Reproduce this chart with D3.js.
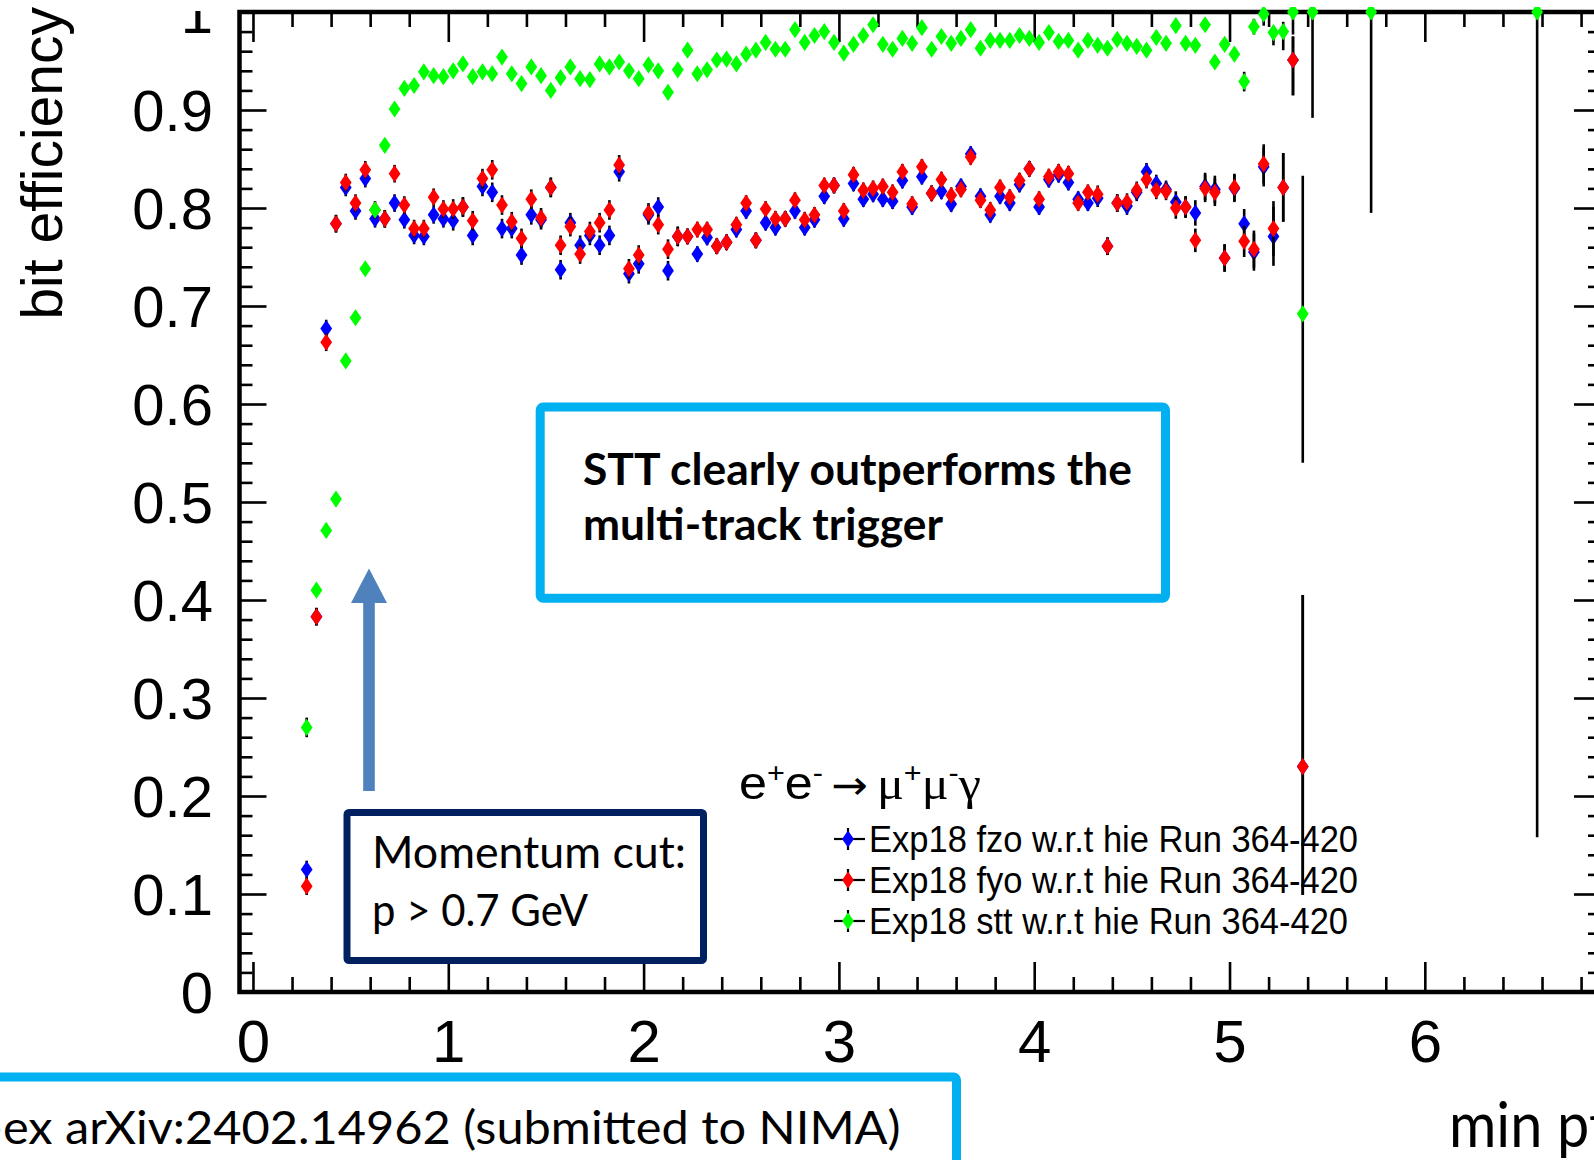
<!DOCTYPE html>
<html><head><meta charset="utf-8">
<script src="https://cdn.jsdelivr.net/npm/d3@7"></script>
<style>html,body{margin:0;padding:0;background:#fff;overflow:hidden}</style>
</head><body>
<svg id="chart" width="1594" height="1160" xmlns="http://www.w3.org/2000/svg"></svg>
<script>
// ---------------- DATA ----------------
const ptBins = [
  0.275,0.325,0.375,0.425,0.475,0.525,0.575,0.625,0.675,0.725,
  0.775,0.825,0.875,0.925,0.975,1.025,1.075,1.125,1.175,1.225,
  1.275,1.325,1.375,1.425,1.475,1.525,1.575,1.625,1.675,1.725,
  1.775,1.825,1.875,1.925,1.975,2.025,2.075,2.125,2.175,2.225,
  2.275,2.325,2.375,2.425,2.475,2.525,2.575,2.625,2.675,2.725,
  2.775,2.825,2.875,2.925,2.975,3.025,3.075,3.125,3.175,3.225,
  3.275,3.325,3.375,3.425,3.475,3.525,3.575,3.625,3.675,3.725,
  3.775,3.825,3.875,3.925,3.975,4.025,4.075,4.125,4.175,4.225,
  4.275,4.325,4.375,4.425,4.475,4.525,4.575,4.625,4.675,4.725,
  4.775,4.825,4.875,4.925,4.975,5.025,5.075,5.125,5.175,5.225,
  5.275,5.325,5.375,5.425,5.725,6.575
];
const effFzo = [
  0.125,0.383,0.677,0.784,0.821,0.797,0.830,0.789,0.789,0.805,
  0.788,0.772,0.771,0.793,0.789,0.787,0.801,0.772,0.822,0.816,
  0.779,0.779,0.752,0.793,0.788,0.821,0.737,0.785,0.762,0.772,
  0.762,0.772,0.837,0.733,0.743,0.793,0.801,0.736,0.771,0.771,
  0.753,0.770,0.761,0.765,0.778,0.797,0.767,0.785,0.780,0.789,
  0.797,0.780,0.788,0.812,0.823,0.789,0.825,0.809,0.814,0.809,
  0.807,0.828,0.801,0.832,0.815,0.817,0.804,0.822,0.855,0.812,
  0.793,0.812,0.805,0.824,0.840,0.801,0.829,0.834,0.826,0.809,
  0.805,0.810,0.761,0.805,0.802,0.816,0.837,0.825,0.819,0.806,
  0.801,0.795,0.822,0.819,0.749,0.820,0.784,0.755,0.842,0.771,
  0.821,0.951,0.230,null,null,null
];
const effFyo = [
  0.108,0.383,0.663,0.784,0.826,0.805,0.839,0.798,0.789,0.835,
  0.803,0.779,0.779,0.811,0.799,0.799,0.801,0.787,0.830,0.839,
  0.803,0.786,0.769,0.809,0.790,0.821,0.762,0.781,0.753,0.776,
  0.785,0.798,0.844,0.738,0.752,0.795,0.783,0.758,0.771,0.771,
  0.778,0.778,0.761,0.765,0.783,0.805,0.767,0.799,0.789,0.789,
  0.808,0.788,0.793,0.823,0.823,0.797,0.834,0.818,0.820,0.822,
  0.816,0.837,0.804,0.842,0.815,0.829,0.813,0.819,0.852,0.808,
  0.798,0.821,0.811,0.828,0.840,0.809,0.832,0.837,0.835,0.805,
  0.816,0.814,0.761,0.805,0.806,0.818,0.829,0.818,0.817,0.800,
  0.801,0.767,0.820,0.816,0.749,0.821,0.766,0.758,0.845,0.779,
  0.821,0.951,0.230,null,null,null
];
const effStt = [
  0.270,0.410,0.471,0.503,0.644,0.688,0.738,0.798,0.864,0.901,
  0.922,0.925,0.939,0.935,0.934,0.940,0.947,0.934,0.939,0.937,
  0.954,0.937,0.927,0.944,0.935,0.920,0.933,0.944,0.932,0.931,
  0.947,0.944,0.949,0.940,0.932,0.946,0.940,0.918,0.941,0.961,
  0.937,0.941,0.951,0.952,0.947,0.957,0.961,0.969,0.962,0.962,
  0.982,0.969,0.976,0.980,0.969,0.958,0.967,0.976,0.987,0.967,
  0.962,0.973,0.968,0.984,0.962,0.975,0.968,0.973,0.982,0.963,
  0.971,0.971,0.971,0.976,0.973,0.969,0.979,0.970,0.971,0.961,
  0.971,0.966,0.963,0.972,0.968,0.965,0.961,0.974,0.968,0.986,
  0.968,0.966,0.987,0.949,0.967,0.957,0.929,0.985,0.998,0.979,
  0.980,1.000,0.692,1.000,1.000,1.000
];
// errors: number = symmetric, [low, high] = asymmetric
const errFzo = [
  0.009,0.009,0.009,0.009,0.009,0.009,0.009,0.009,0.009,0.009,
  0.009,0.009,0.009,0.009,0.009,0.010,0.010,0.010,0.010,0.010,
  0.010,0.010,0.010,0.010,0.010,0.010,0.010,0.010,0.010,0.010,
  0.010,0.010,0.010,0.010,0.010,0.010,0.010,0.010,0.010,0.008,
  0.008,0.008,0.008,0.008,0.008,0.008,0.008,0.008,0.008,0.008,
  0.008,0.008,0.008,0.008,0.008,0.008,0.008,0.008,0.008,0.008,
  0.008,0.008,0.008,0.008,0.008,0.008,0.008,0.008,0.008,0.008,
  0.008,0.008,0.008,0.008,0.008,0.008,0.008,0.008,0.008,0.008,
  0.008,0.009,0.009,0.009,0.009,0.009,0.009,0.009,0.009,0.011,
  0.011,0.013,0.014,0.014,0.014,0.014,0.015,0.019,0.020,0.030,
  0.035,[0.036,0.024],[0.131,0.175],0,0,0
];
const errFyo = [
  0.009,0.009,0.009,0.009,0.009,0.009,0.009,0.009,0.009,0.009,
  0.009,0.009,0.009,0.009,0.009,0.010,0.010,0.010,0.010,0.010,
  0.010,0.010,0.010,0.010,0.010,0.010,0.010,0.010,0.010,0.010,
  0.010,0.010,0.010,0.010,0.010,0.010,0.010,0.010,0.010,0.008,
  0.008,0.008,0.008,0.008,0.008,0.008,0.008,0.008,0.008,0.008,
  0.008,0.008,0.008,0.008,0.008,0.008,0.008,0.008,0.008,0.008,
  0.008,0.008,0.008,0.008,0.008,0.008,0.008,0.008,0.008,0.008,
  0.008,0.008,0.008,0.008,0.008,0.008,0.008,0.008,0.008,0.008,
  0.008,0.009,0.009,0.009,0.009,0.009,0.009,0.009,0.009,0.011,
  0.011,0.012,0.014,0.014,0.014,0.014,0.016,0.019,0.020,0.028,
  0.035,[0.036,0.024],[0.131,0.175],0,0,0
];
const errStt = [
  0.010,0.006,0.006,0.006,0.006,0.006,0.006,0.006,0.006,0.006,
  0.004,0.004,0.004,0.004,0.004,0.004,0.004,0.004,0.004,0.004,
  0.004,0.004,0.004,0.004,0.004,0.004,0.004,0.004,0.004,0.004,
  0.004,0.004,0.004,0.004,0.004,0.004,0.004,0.004,0.004,0.004,
  0.004,0.004,0.004,0.004,0.004,0.004,0.004,0.004,0.004,0.004,
  0.004,0.004,0.004,0.004,0.004,0.004,0.004,0.004,0.004,0.004,
  0.004,0.004,0.004,0.004,0.004,0.004,0.004,0.004,0.004,0.004,
  0.004,0.004,0.004,0.004,0.004,0.004,0.004,0.004,0.004,0.004,
  0.004,0.004,0.004,0.004,0.004,0.004,0.004,0.004,0.004,0.004,
  0.004,0.004,0.004,0.004,0.004,0.004,0.010,0.008,[0.012,0.002],[0.013,0.006],
  [0.019,0.010],[0.023,0],[0.152,0.141],[0.108,0],[0.205,0],[0.842,0]
];
const seriesNames = [
  "Exp18 fzo w.r.t hie Run 364-420",
  "Exp18 fyo w.r.t hie Run 364-420",
  "Exp18 stt w.r.t hie Run 364-420"
];
const xTickValues = [0,1,2,3,4,5,6];
const xTickLabels = ["0","1","2","3","4","5","6"];
const yTickValues = [0,0.1,0.2,0.3,0.4,0.5,0.6,0.7,0.8,0.9,1];
const yTickLabels = ["0","0.1","0.2","0.3","0.4","0.5","0.6","0.7","0.8","0.9","1"];
const yTitle = "bit efficiency";
const xTitle = "min pt [GeV]";
const noteSTT = ["STT clearly outperforms the", "multi-track trigger"];
const noteCut = ["Momentum cut:", "p > 0.7 GeV"];
const noteRef = "hep-ex arXiv:2402.14962 (submitted to NIMA)";

// ---------------- LAYOUT ----------------
const W = 1594, H = 1160;
const frame = {left: 239.5, right: 1601, top: 12, bottom: 992};
const ROOTFONT = "'Liberation Sans', Arial, Helvetica, sans-serif";
const PPTFONT = "Lato, 'Open Sans', sans-serif";
const colors = ["#0000ff", "#ff0000", "#00ff00"];

const svg = d3.select("#chart");
svg.append("rect").attr("width", W).attr("height", H).attr("fill", "#fff");

const x = d3.scaleLinear().domain([-0.069, 6.902]).range([frame.left, frame.right]);
const y = d3.scaleLinear().domain([0, 1]).range([frame.bottom, frame.top]);

const defs = svg.append("defs");
defs.append("clipPath").attr("id", "imgclip")
  .append("rect").attr("x", 0).attr("y", 7).attr("width", W).attr("height", H);
defs.append("clipPath").attr("id", "lblclip")
  .append("rect").attr("x", 0).attr("y", 11).attr("width", W).attr("height", H);
const root = svg.append("g").attr("clip-path", "url(#imgclip)");

const xMinor = d3.range(0, 69).map(i => +(i * 0.2).toFixed(2)).filter(v => v <= 6.9 && !xTickValues.includes(v));
const yMinor = d3.range(0, 51).map(i => +(i * 0.02).toFixed(2)).filter(v => Math.abs(v*10 - Math.round(v*10)) > 1e-6);

function styleTicks(g) {
  g.select(".domain").remove();
  g.selectAll("line").attr("stroke", "#000").attr("stroke-width", 2.6);
}
// bottom
root.append("g").attr("transform", `translate(0,${frame.bottom})`)
  .call(d3.axisBottom(x).tickValues(xTickValues).tickSize(-30).tickFormat("")).call(styleTicks);
root.append("g").attr("transform", `translate(0,${frame.bottom})`)
  .call(d3.axisBottom(x).tickValues(xMinor).tickSize(-15).tickFormat("")).call(styleTicks);
// top
root.append("g").attr("transform", `translate(0,${frame.top})`)
  .call(d3.axisTop(x).tickValues(xTickValues).tickSize(-30).tickFormat("")).call(styleTicks);
root.append("g").attr("transform", `translate(0,${frame.top})`)
  .call(d3.axisTop(x).tickValues(xMinor).tickSize(-15).tickFormat("")).call(styleTicks);
// left
root.append("g").attr("transform", `translate(${frame.left},0)`)
  .call(d3.axisLeft(y).tickValues(yTickValues).tickSize(-27).tickFormat("")).call(styleTicks);
root.append("g").attr("transform", `translate(${frame.left},0)`)
  .call(d3.axisLeft(y).tickValues(yMinor).tickSize(-13).tickFormat("")).call(styleTicks);
// right
root.append("g").attr("transform", `translate(${frame.right},0)`)
  .call(d3.axisRight(y).tickValues(yTickValues).tickSize(-27).tickFormat("")).call(styleTicks);
root.append("g").attr("transform", `translate(${frame.right},0)`)
  .call(d3.axisRight(y).tickValues(yMinor).tickSize(-13).tickFormat("")).call(styleTicks);

// frame
root.append("rect")
  .attr("x", frame.left).attr("y", frame.top)
  .attr("width", frame.right - frame.left).attr("height", frame.bottom - frame.top)
  .attr("fill", "none").attr("stroke", "#000").attr("stroke-width", 4.5);

// tick labels
const xl = root.append("g").attr("transform", "translate(0,1062)")
  .call(d3.axisBottom(x).tickValues(xTickValues).tickFormat((d, i) => xTickLabels[i]).tickSize(0).tickPadding(0));
xl.select(".domain").remove();
xl.attr("font-family", ROOTFONT).attr("font-size", 60);
xl.selectAll("text").attr("y", 0).attr("dy", 0).attr("fill", "#000");

const ylWrap = root.append("g").attr("clip-path", "url(#lblclip)");
const yl = ylWrap.append("g").attr("transform", "translate(213,0)")
  .call(d3.axisLeft(y).tickValues(yTickValues).tickFormat((d, i) => yTickLabels[i]).tickSize(0).tickPadding(0));
yl.select(".domain").remove();
yl.attr("font-family", ROOTFONT).attr("font-size", 58);
yl.selectAll("text").attr("x", 0).attr("dy", "0.358em").attr("fill", "#000");

// y title
root.append("text")
  .attr("transform", "translate(62,7) rotate(-90)")
  .attr("text-anchor", "end")
  .attr("font-family", ROOTFONT).attr("font-size", 57).attr("fill", "#000")
  .text(yTitle);

// ---------------- DATA MARKS ----------------
const lo = e => Array.isArray(e) ? e[0] : e;
const hi = e => Array.isArray(e) ? e[1] : e;
const diamond = "M0,-8.6L5.9,0L0,8.6L-5.9,0Z";
const series = [
  {name: seriesNames[0], eff: effFzo, err: errFzo, color: colors[0]},
  {name: seriesNames[1], eff: effFyo, err: errFyo, color: colors[1]},
  {name: seriesNames[2], eff: effStt, err: errStt, color: colors[2]}
];
series.forEach(s => {
  const pts = ptBins.map((b, i) => ({b, v: s.eff[i], e: s.err[i]})).filter(d => d.v != null);
  const g = root.append("g");
  g.selectAll("line").data(pts.filter(d => lo(d.e) + hi(d.e) > 0)).join("line")
    .attr("x1", d => x(d.b)).attr("x2", d => x(d.b))
    .attr("y1", d => y(d.v - lo(d.e))).attr("y2", d => y(Math.min(1, d.v + hi(d.e))))
    .attr("stroke", "#000").attr("stroke-width", 2.6);
  g.selectAll("path").data(pts).join("path")
    .attr("d", diamond)
    .attr("transform", d => `translate(${x(d.b)},${y(d.v)})`)
    .attr("fill", s.color);
});

// ---------------- LEGEND ----------------
const legTitle = root.append("text").attr("x", 739).attr("y", 799)
  .attr("font-family", ROOTFONT).attr("font-size", 46).attr("fill", "#000")
  .attr("textLength", 242).attr("lengthAdjust", "spacingAndGlyphs");
legTitle.append("tspan").text("e");
legTitle.append("tspan").attr("font-size", 28).attr("dy", -17).text("+");
legTitle.append("tspan").attr("dy", 17).text("e");
legTitle.append("tspan").attr("font-size", 28).attr("dy", -17).text("-");
legTitle.append("tspan").attr("dy", 17).attr("font-family", "'DejaVu Sans', sans-serif").attr("font-size", 40).text("\u2009\u2192\u2009");
legTitle.append("tspan").attr("font-family", "'Liberation Serif', serif").text("\u03BC");
legTitle.append("tspan").attr("font-size", 28).attr("dy", -17).text("+");
legTitle.append("tspan").attr("dy", 17).attr("font-family", "'Liberation Serif', serif").text("\u03BC");
legTitle.append("tspan").attr("font-size", 28).attr("dy", -17).text("-");
legTitle.append("tspan").attr("dy", 17).attr("font-family", "'Liberation Serif', serif").text("\u03B3");

const legRowsY = [839, 880, 921];
const legTextW = [489, 489, 479];
const leg = root.append("g");
series.forEach((s, i) => {
  const cy = legRowsY[i];
  const r = leg.append("g");
  r.append("line").attr("x1", 834).attr("x2", 865).attr("y1", cy).attr("y2", cy)
    .attr("stroke", "#000").attr("stroke-width", 2.2);
  r.append("line").attr("x1", 848).attr("x2", 848).attr("y1", cy - 11).attr("y2", cy + 11)
    .attr("stroke", "#000").attr("stroke-width", 2.2);
  r.append("path").attr("d", diamond).attr("transform", `translate(848,${cy})`).attr("fill", s.color);
  r.append("text").attr("x", 869).attr("y", cy + 13)
    .attr("font-family", ROOTFONT).attr("font-size", 36).attr("fill", "#000")
    .attr("textLength", legTextW[i]).attr("lengthAdjust", "spacingAndGlyphs")
    .text(s.name);
});

// ---------------- ANNOTATIONS (slide overlays) ----------------
const ann = svg.append("g");
// STT box
ann.append("rect").attr("x", 540.2).attr("y", 407.1).attr("width", 625.3).attr("height", 191.2)
  .attr("rx", 3).attr("fill", "#fff").attr("stroke", "#00b0f0").attr("stroke-width", 9);
[485, 540].forEach((by, i) => {
  ann.append("text").attr("x", 583).attr("y", by)
    .attr("font-family", PPTFONT).attr("font-weight", 700).attr("font-size", 44).attr("fill", "#000")
    .attr("textLength", i === 0 ? 549 : 360).attr("lengthAdjust", "spacingAndGlyphs")
    .text(noteSTT[i]);
});
// Arrow
const ar = {x: 369, tail: 791, headBase: 603, tip: 568.6, shaft: 5.8, head: 18};
ann.append("polygon")
  .attr("points", [
    [ar.x - ar.shaft, ar.tail], [ar.x - ar.shaft, ar.headBase], [ar.x - ar.head, ar.headBase],
    [ar.x, ar.tip], [ar.x + ar.head, ar.headBase], [ar.x + ar.shaft, ar.headBase], [ar.x + ar.shaft, ar.tail]
  ].map(p => p.join(",")).join(" "))
  .attr("fill", "#4f81bd");
// Momentum box
ann.append("rect").attr("x", 347).attr("y", 812.5).attr("width", 356.5).attr("height", 148)
  .attr("rx", 2).attr("fill", "#fff").attr("stroke", "#002060").attr("stroke-width", 7);
[868, 925.5].forEach((by, i) => {
  ann.append("text").attr("x", 372).attr("y", by)
    .attr("font-family", PPTFONT).attr("font-size", 45).attr("fill", "#000")
    .attr("textLength", i === 0 ? 314 : 216).attr("lengthAdjust", "spacingAndGlyphs")
    .text(noteCut[i]);
});
// Bottom reference box
ann.append("rect").attr("x", -20).attr("y", 1077).attr("width", 976.5).attr("height", 200)
  .attr("rx", 3).attr("fill", "#fff").attr("stroke", "#00b0f0").attr("stroke-width", 9);
const ref = ann.append("text").attr("font-family", PPTFONT).attr("font-size", 46).attr("fill", "#000").text(noteRef);
{
  const node = ref.node();
  const full = node.getComputedTextLength();
  const idx = noteRef.indexOf("ex arXiv");
  const pre = node.getSubStringLength(0, idx);
  const s = 898 / (full - pre);
  ref.attr("transform", `translate(${901 - full * s},1144) scale(${s},1)`);
}
// x title (slide text, runs past the page edge as in the slide)
const xt = ann.append("text").attr("font-family", PPTFONT).attr("font-size", 62).attr("fill", "#000").text(xTitle);
{
  const node = xt.node();
  const w5 = node.getSubStringLength(0, 5);
  const s = 140 / w5;
  xt.attr("transform", `translate(1449,1147) scale(${s},1)`);
}
</script>
</body></html>
